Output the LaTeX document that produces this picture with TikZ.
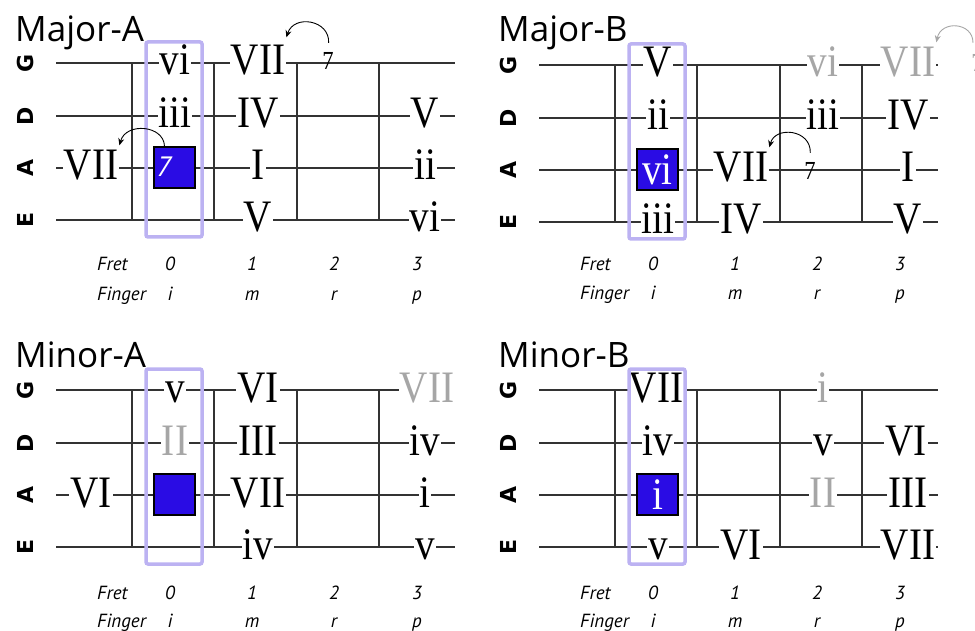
\documentclass[tikz,border=0pt]{standalone}
\usepackage{fontspec}
\setmainfont{Liberation Serif}
\newfontfamily\notefont[FakeStretch=0.87]{Liberation Serif}
\newfontfamily\titlefont{Open Sans}
\newfontfamily\axisfont{PT Sans}
\newfontfamily\stringfont{DejaVu Sans}
\usetikzlibrary{arrows.meta}
\definecolor{rootblue}{RGB}{42,12,228}
\definecolor{boxlav}{RGB}{188,178,242}

\begin{document}
\begin{tikzpicture}[x=1pt, y=-1pt,
    strline/.style={line width=1.1pt, black!80},
    note/.style={font=\notefont\fontsize{45}{50}\selectfont, fill=white, inner xsep=1pt, inner ysep=0pt, anchor=base},
    ghost/.style={note, text=black!35},
    seven/.style={font=\notefont\fontsize{26}{28}\selectfont, inner sep=0pt, anchor=base},
    posbox/.style={draw=boxlav, line width=3.5pt, rounded corners=2pt},
    root/.style={rectangle, draw=black, line width=1.3pt, fill=rootblue, minimum width=41pt, minimum height=41pt, inner sep=0pt, text=white, font=\notefont\fontsize{45}{50}\selectfont},
    arrow/.style={-{Stealth[length=7pt, width=6pt]}, line width=0.9pt},
    title/.style={font=\titlefont\fontsize{35}{40}\selectfont, anchor=base west, inner sep=0pt},
    strlabel/.style={font=\stringfont\bfseries\fontsize{22}{24}\selectfont, rotate=90, inner sep=0pt},
    axis/.style={font=\axisfont\itshape\fontsize{19}{22}\selectfont, anchor=base, inner sep=0pt},
]
\useasboundingbox (0,0) rectangle (975,631);

\begin{scope}
\node[title] (majA-title) at (15,42) {Major-A};
\draw[strline] (56,63) -- (455,63) (56,116) -- (455,116) (56,168) -- (455,168) (56,220) -- (455,220);
\draw[strline] (132,63) -- (132,220) (214,63) -- (214,220) (297,63) -- (297,220) (379,63) -- (379,220);
\node[strlabel] (majA-sG) at (25,63) {G};
\node[strlabel] (majA-sD) at (25,116) {D};
\node[strlabel] (majA-sA) at (25,168) {A};
\node[strlabel] (majA-sE) at (25,220) {E};
\node[note] (majA-G0) at (175,75) {vi};
\node[note] (majA-G1) at (258,75) {VII};
\node[seven] (majA-G2) at (328,70) {7};
\node[note] (majA-D0) at (175,128) {iii};
\node[note] (majA-D1) at (258,128) {IV};
\node[note] (majA-D3) at (425,128) {V};
\node[note] (majA-Am) at (91,180) {VII};
\node[root] (majA-A0) at (174.5,167.5) {};
\node[axis, text=white, font=\axisfont\itshape\fontsize{28}{30}\selectfont] (majA-A0t) at (164,177) {7};
\node[note] (majA-A1) at (258,180) {I};
\node[note] (majA-A3) at (425,180) {ii};
\node[note] (majA-E1) at (258,232) {V};
\node[note] (majA-E3) at (425,232) {vi};
\draw[posbox] (146,42) rectangle (202,237);
\draw[arrow, shorten <=10pt] (majA-G2.north) .. controls (330,20) and (294,14) .. ([yshift=8pt]majA-G1.north east);
\draw[arrow] ([xshift=-10pt]majA-A0.north) .. controls (164,125) and (126,122) .. ([yshift=5pt]majA-Am.north east);
\node[axis, anchor=base west] (majA-fret) at (97,271) {Fret};
\node[axis] (majA-f0) at (170,271) {0};
\node[axis] (majA-f1) at (252,271) {1};
\node[axis] (majA-f2) at (334,271) {2};
\node[axis] (majA-f3) at (417,271) {3};
\node[axis, anchor=base west] (majA-finger) at (97,300) {Finger};
\node[axis] (majA-i) at (170,300) {i};
\node[axis] (majA-m) at (252,300) {m};
\node[axis] (majA-r) at (334,300) {r};
\node[axis] (majA-p) at (417,300) {p};
\end{scope}

\begin{scope}[shift={(483,2)}]
\node[title] (majB-title) at (15,40) {Major-B};
\draw[strline] (56,63) -- (455,63) (56,116) -- (455,116) (56,168) -- (455,168) (56,220) -- (455,220);
\draw[strline] (132,63) -- (132,220) (214,63) -- (214,220) (297,63) -- (297,220) (379,63) -- (379,220);
\node[strlabel] (majB-sG) at (25,63) {G};
\node[strlabel] (majB-sD) at (25,116) {D};
\node[strlabel] (majB-sA) at (25,168) {A};
\node[strlabel] (majB-sE) at (25,220) {E};
\node[note] (majB-G0) at (175,75) {V};
\node[ghost] (majB-G2) at (340,75) {vi};
\node[ghost] (majB-G3) at (425,75) {VII};
\node[seven, text=black!35] (majB-G4) at (494,70) {7};
\node[note] (majB-D0) at (175,128) {ii};
\node[note] (majB-D2) at (340,128) {iii};
\node[note] (majB-D3) at (425,128) {IV};
\node[root] (majB-A0) at (174.5,167.5) {vi};
\node[note] (majB-A1) at (258,180) {VII};
\node[seven] (majB-A2) at (327,178) {7};
\node[note] (majB-A3) at (425,180) {I};
\node[note] (majB-E0) at (175,232) {iii};
\node[note] (majB-E1) at (258,232) {IV};
\node[note] (majB-E3) at (425,232) {V};
\draw[posbox] (146,42) rectangle (202,237);
\draw[arrow, shorten <=10pt] (majB-A2.north) .. controls (328,127) and (292,124) .. ([yshift=5pt]majB-A1.north east);
\draw[arrow, black!35, shorten <=12pt] ([xshift=-4pt]majB-G4.north) .. controls (490,20) and (458,18) .. ([yshift=5pt]majB-G3.north east);
\node[axis, anchor=base west] (majB-fret) at (97,268) {Fret};
\node[axis] (majB-f0) at (170,268) {0};
\node[axis] (majB-f1) at (252,268) {1};
\node[axis] (majB-f2) at (334,268) {2};
\node[axis] (majB-f3) at (417,268) {3};
\node[axis, anchor=base west] (majB-finger) at (97,297) {Finger};
\node[axis] (majB-i) at (170,297) {i};
\node[axis] (majB-m) at (252,297) {m};
\node[axis] (majB-r) at (334,297) {r};
\node[axis] (majB-p) at (417,297) {p};
\end{scope}

\begin{scope}[shift={(0,327)}]
\node[title] (minA-title) at (15,40) {Minor-A};
\draw[strline] (56,63) -- (455,63) (56,116) -- (455,116) (56,168) -- (455,168) (56,220) -- (455,220);
\draw[strline] (132,63) -- (132,220) (214,63) -- (214,220) (297,63) -- (297,220) (379,63) -- (379,220);
\node[strlabel] (minA-sG) at (25,63) {G};
\node[strlabel] (minA-sD) at (25,116) {D};
\node[strlabel] (minA-sA) at (25,168) {A};
\node[strlabel] (minA-sE) at (25,220) {E};
\node[note] (minA-G0) at (175,75) {v};
\node[note] (minA-G1) at (258,75) {VI};
\node[ghost] (minA-G3) at (427,75) {VII};
\node[ghost] (minA-D0) at (175,128) {II};
\node[note] (minA-D1) at (258,128) {III};
\node[note] (minA-D3) at (425,128) {iv};
\node[note] (minA-Am) at (91,180) {VI};
\node[root] (minA-A0) at (174.5,167.5) {};
\node[note] (minA-A1) at (258,180) {VII};
\node[note] (minA-A3) at (425,180) {i};
\node[note] (minA-E1) at (258,232) {iv};
\node[note] (minA-E3) at (425,232) {v};
\draw[posbox] (146,42) rectangle (202,237);
\node[axis, anchor=base west] (minA-fret) at (97,272) {Fret};
\node[axis] (minA-f0) at (170,272) {0};
\node[axis] (minA-f1) at (252,272) {1};
\node[axis] (minA-f2) at (334,272) {2};
\node[axis] (minA-f3) at (417,272) {3};
\node[axis, anchor=base west] (minA-finger) at (97,300) {Finger};
\node[axis] (minA-i) at (170,300) {i};
\node[axis] (minA-m) at (252,300) {m};
\node[axis] (minA-r) at (334,300) {r};
\node[axis] (minA-p) at (417,300) {p};
\end{scope}

\begin{scope}[shift={(483,327)}]
\node[title] (minB-title) at (15,40) {Minor-B};
\draw[strline] (56,63) -- (455,63) (56,116) -- (455,116) (56,168) -- (455,168) (56,220) -- (455,220);
\draw[strline] (132,63) -- (132,220) (214,63) -- (214,220) (297,63) -- (297,220) (379,63) -- (379,220);
\node[strlabel] (minB-sG) at (25,63) {G};
\node[strlabel] (minB-sD) at (25,116) {D};
\node[strlabel] (minB-sA) at (25,168) {A};
\node[strlabel] (minB-sE) at (25,220) {E};
\node[note] (minB-G0) at (173,75) {VII};
\node[ghost] (minB-G2) at (340,75) {i};
\node[note] (minB-D0) at (175,128) {iv};
\node[note] (minB-D2) at (340,128) {v};
\node[note] (minB-D3) at (423,128) {VI};
\node[root] (minB-A0) at (174.5,167.5) {i};
\node[ghost] (minB-A2) at (340,180) {II};
\node[note] (minB-A3) at (425,180) {III};
\node[note] (minB-E0) at (175,232) {v};
\node[note] (minB-E1) at (258,232) {VI};
\node[note] (minB-E3) at (425,232) {VII};
\draw[posbox] (146,42) rectangle (202,237);
\node[axis, anchor=base west] (minB-fret) at (97,272) {Fret};
\node[axis] (minB-f0) at (170,272) {0};
\node[axis] (minB-f1) at (252,272) {1};
\node[axis] (minB-f2) at (334,272) {2};
\node[axis] (minB-f3) at (417,272) {3};
\node[axis, anchor=base west] (minB-finger) at (97,300) {Finger};
\node[axis] (minB-i) at (170,300) {i};
\node[axis] (minB-m) at (252,300) {m};
\node[axis] (minB-r) at (334,300) {r};
\node[axis] (minB-p) at (417,300) {p};
\end{scope}

\end{tikzpicture}
\end{document}
